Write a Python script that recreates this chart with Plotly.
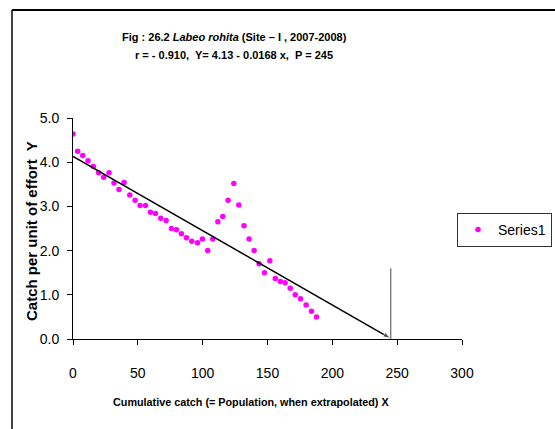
import plotly.graph_objects as go

# ---- data ----
cum_catch = [0, 3.6, 7.5, 11.6, 15.7, 19.8, 23.7, 27.8, 31.6, 35.5, 39.4, 43.8,
             47.9, 51.7, 55.9, 59.7, 63.6, 67.7, 71.8, 75.9, 79.8, 83.6, 87.5,
             91.6, 96.0, 99.8, 103.9, 107.8, 111.7, 115.5, 119.6, 124.0, 127.9,
             131.9, 135.8, 139.7, 143.5, 147.7, 151.8, 156.0, 159.9, 163.6,
             167.5, 171.4, 175.5, 179.8, 183.9, 187.8]
cpue = [4.64, 4.25, 4.15, 4.03, 3.90, 3.76, 3.66, 3.76, 3.53, 3.38, 3.54, 3.26,
        3.14, 3.02, 3.02, 2.87, 2.84, 2.73, 2.68, 2.50, 2.47, 2.38, 2.29,
        2.21, 2.18, 2.26, 2.00, 2.26, 2.65, 2.77, 3.14, 3.52, 3.03,
        2.56, 2.26, 2.00, 1.70, 1.50, 1.77, 1.37, 1.30, 1.27,
        1.15, 1.00, 0.91, 0.77, 0.63, 0.50]

intercept = 4.13
slope = -0.0168
population = 245
pop_marker_top = 1.6

x_ticks = [0, 50, 100, 150, 200, 250, 300]
y_ticks = [0, 1, 2, 3, 4, 5]

title_line1 = "Fig : 26.2 <i>Labeo rohita</i> (Site \u2013 I , 2007-2008)"
title_line2 = "r = - 0.910,  Y= 4.13 - 0.0168 x,  P = 245"
x_title = "Cumulative catch (= Population, when extrapolated) X"
y_title = "Catch per unit of effort  Y"
series_name = "Series1"

# ---- layout geometry (pixels) ----
W, H = 555, 429
PL, PR, PT, PB = 73, 462, 118, 339  # plot area edges


def px(x):
    return (x - PL) / (PR - PL)


def py(y):
    return (PB - y) / (PB - PT)


FONT = "Liberation Sans, Arial, sans-serif"

fig = go.Figure()

fig.add_trace(go.Scatter(
    x=cum_catch, y=cpue, mode="markers", name=series_name,
    marker=dict(color="#FF00FF", size=5.5, symbol="circle"),
    showlegend=True,
))

# regression line with arrow to the extrapolated population
line_x = [0, population]
line_y = [intercept + slope * v for v in line_x]
fig.add_trace(go.Scatter(
    x=line_x, y=line_y, mode="lines+markers", showlegend=False,
    line=dict(color="black", width=1.5),
    marker=dict(symbol="arrow", angleref="previous", size=[0, 8], color="black"),
    hoverinfo="skip",
))

# vertical marker at P
fig.add_trace(go.Scatter(
    x=[population, population], y=[0, pop_marker_top], mode="lines",
    showlegend=False, line=dict(color="#808080", width=1.5), hoverinfo="skip",
))

axis_common = dict(
    showgrid=False, zeroline=False, showline=True, linecolor="black", linewidth=1,
    ticks="outside", ticklen=5, tickcolor="black", tickwidth=1, automargin=False,
    tickfont=dict(family=FONT, size=14, color="black"),
)

fig.update_xaxes(range=[0, 300], tickvals=x_ticks, ticklabelstandoff=16, **axis_common)
fig.update_yaxes(range=[0, 5], tickvals=y_ticks, tickformat=".1f", ticklabelstandoff=5, **axis_common)

annotations = [
    dict(text="<b>" + title_line1 + "</b>", x=px(234), y=py(37), xref="paper", yref="paper",
         showarrow=False, xanchor="center", yanchor="middle",
         font=dict(family=FONT, size=11, color="black")),
    dict(text="<b>" + title_line2 + "</b>", x=px(234), y=py(55), xref="paper", yref="paper",
         showarrow=False, xanchor="center", yanchor="middle",
         font=dict(family=FONT, size=11, color="black")),
    dict(text="<b>" + x_title + "</b>", x=px(251), y=py(402), xref="paper", yref="paper",
         showarrow=False, xanchor="center", yanchor="middle",
         font=dict(family=FONT, size=10.8, color="black")),
    dict(text="<b>" + y_title + "</b>", x=px(31), y=py(231), xref="paper", yref="paper",
         showarrow=False, xanchor="center", yanchor="middle", textangle=-90,
         font=dict(family=FONT, size=15, color="black")),
]

shapes = [
    # chart-area border (left and top visible)
    dict(type="line", xref="paper", yref="paper", x0=px(12), x1=px(12), y0=py(10), y1=py(440),
         line=dict(color="black", width=1.5)),
    dict(type="line", xref="paper", yref="paper", x0=px(12), x1=px(570), y0=py(10), y1=py(10),
         line=dict(color="black", width=2)),
]

fig.update_layout(
    width=W, height=H,
    margin=dict(l=PL, r=W - PR, t=PT, b=H - PB, pad=0, autoexpand=False),
    paper_bgcolor="white", plot_bgcolor="white",
    showlegend=True,
    legend=dict(x=px(552), y=py(213), xanchor="right", yanchor="top",
                bordercolor="#333333", borderwidth=1, bgcolor="white",
                font=dict(family=FONT, size=14, color="black"),
                itemwidth=30, tracegroupgap=0),
    annotations=annotations, shapes=shapes,
)

fig.write_html("out.html", config={"displayModeBar": False},
               post_script="document.body.style.margin='0';document.body.style.overflow='hidden';")
